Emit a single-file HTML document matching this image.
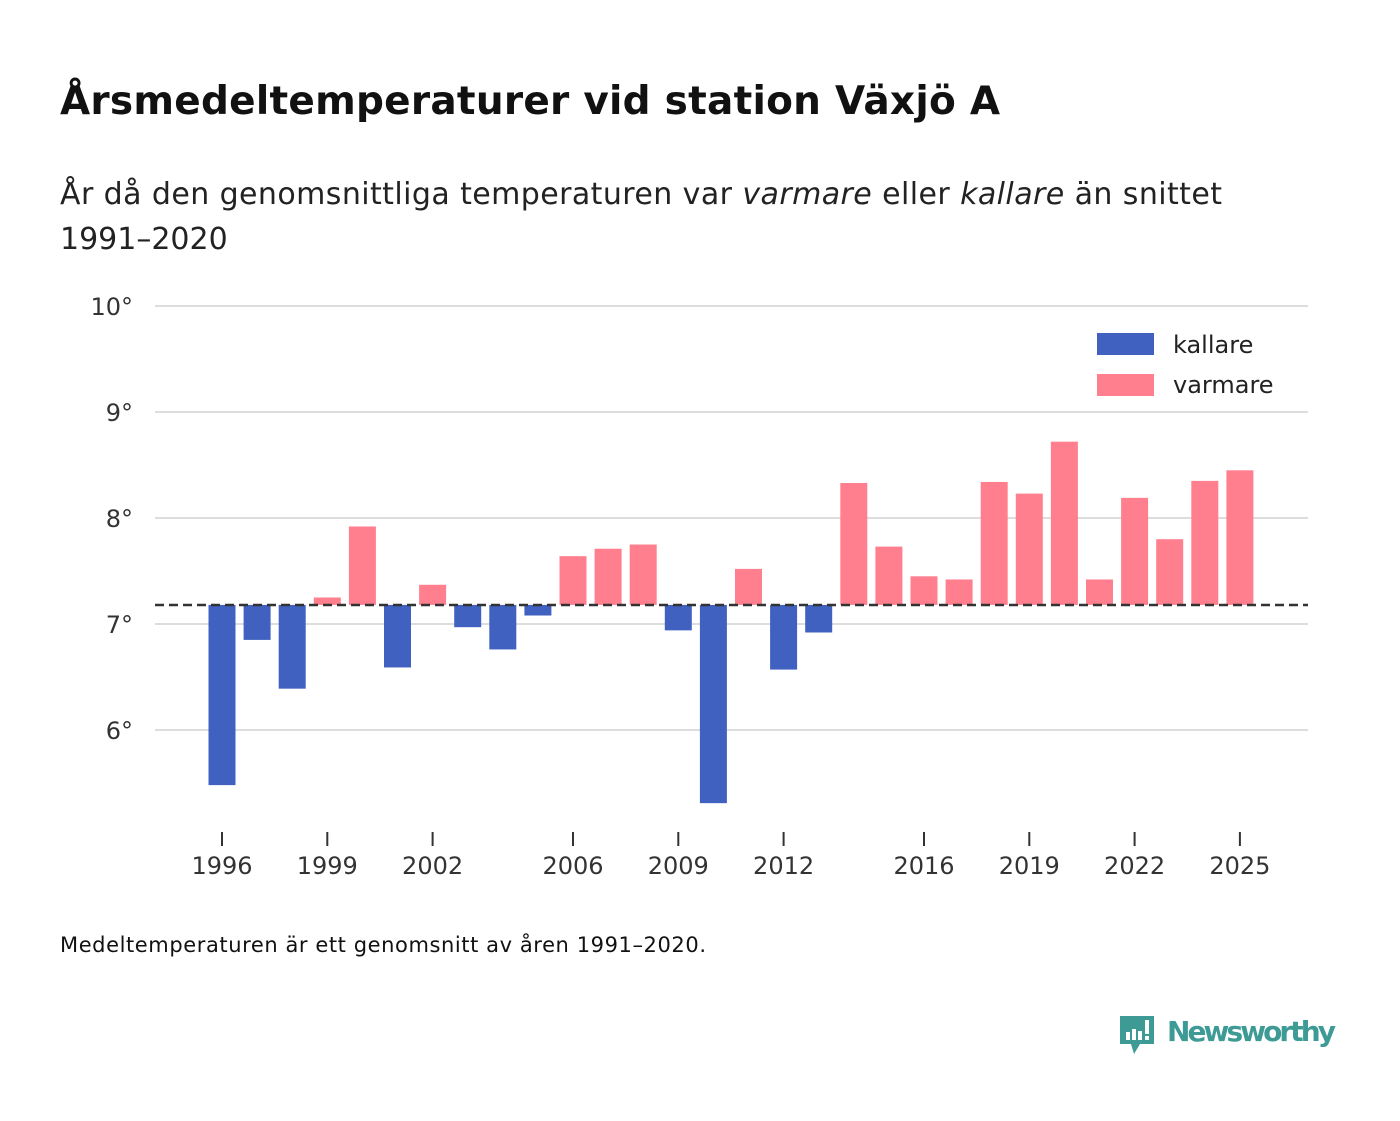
<!DOCTYPE html>
<html><head><meta charset="utf-8"><style>
body{margin:0;width:1400px;height:1116px;background:#fff;font-family:"Liberation Sans","DejaVu Sans",sans-serif;overflow:hidden}
svg text{font-family:"DejaVu Sans","Liberation Sans",sans-serif}
</style></head><body>
<svg width="1400" height="1116">
<text x="60" y="114" font-size="39" font-weight="bold" fill="#111" textLength="940">Årsmedeltemperaturer vid station Växjö A</text>
<text x="60" y="204" font-size="30" fill="#222" textLength="1162">År då den genomsnittliga temperaturen var <tspan font-style="italic">varmare</tspan> eller <tspan font-style="italic">kallare</tspan> än snittet</text>
<text x="60" y="249" font-size="30" fill="#222">1991–2020</text>
<g id="grid"></g><g id="bars"></g><g id="xaxis"></g>
<line x1="155" x2="1308" y1="605" y2="605" stroke="#333" stroke-width="2.5" stroke-dasharray="9,5"/>
<rect x="1097" y="333" width="57" height="22" fill="#4061c0"/>
<text x="1173" y="353" font-size="24" fill="#222">kallare</text>
<rect x="1097" y="374" width="57" height="22" fill="#ff7f8e"/>
<text x="1173" y="393" font-size="24" fill="#222">varmare</text>
<text x="60" y="952" font-size="21" fill="#111" textLength="646">Medeltemperaturen är ett genomsnitt av åren 1991–2020.</text>
<g>
<path d="M1120 1016h34v28h-14l-6 10-3-10h-11z" fill="#3d9a94"/>
<rect x="1126" y="1032" width="4" height="8" fill="#fff"/><rect x="1132" y="1029" width="4" height="11" fill="#fff"/><rect x="1138" y="1031" width="4" height="9" fill="#fff"/><rect x="1145" y="1020" width="4" height="14" fill="#fff"/><rect x="1145" y="1036" width="4" height="4" fill="#fff"/>
<text x="1167" y="1041" font-size="28" font-weight="bold" fill="#3d9a94" textLength="169">Newsworthy</text>
</g>
</svg>
<script>
const years=[1996,1997,1998,1999,2000,2001,2002,2003,2004,2005,2006,2007,2008,2009,2010,2011,2012,2013,2014,2015,2016,2017,2018,2019,2020,2021,2022,2023,2024,2025];
const temps=[5.48,6.85,6.39,7.25,7.92,6.59,7.37,6.97,6.76,7.08,7.64,7.71,7.75,6.94,5.31,7.52,6.57,6.92,8.33,7.73,7.45,7.42,8.34,8.23,8.72,7.42,8.19,7.80,8.35,8.45];
const baseline=7.18;
const yTicks=[6,7,8,9,10];
const xTicks=[1996,1999,2002,2006,2009,2012,2016,2019,2022,2025];
const NS="http://www.w3.org/2000/svg";
const y=v=>624-(v-7)*106;
const x=yr=>222+(yr-1996)*35.1;
function mk(t,a,p){const e=document.createElementNS(NS,t);for(const k in a)e.setAttribute(k,a[k]);p.appendChild(e);return e;}
const g=document.getElementById('grid');
yTicks.forEach(v=>{
 const l=mk('line',{x1:155,x2:1308,y1:y(v),y2:y(v),stroke:'#ddd','stroke-width':2},g);
 
 
 const t=mk('text',{x:133,y:y(v)+9,'font-size':24,fill:'#333','text-anchor':'end'},g);
 t.textContent=v+'°';
 
 
});
const b=document.getElementById('bars');
years.forEach((yr,i)=>{
 const v=temps[i];const top=Math.min(y(v),y(baseline));const h=Math.abs(y(v)-y(baseline));
 const r=mk('rect',{x:x(yr)-13.5,y:top,width:27,height:h,fill:v<baseline?'#4061c0':'#ff7f8e'},b);
 
 
});
const xa=document.getElementById('xaxis');
xTicks.forEach(yr=>{
 const l=mk('line',{x1:x(yr),x2:x(yr),y1:832,y2:846,stroke:'#333','stroke-width':2},xa);
 
 
 const t=mk('text',{x:x(yr),y:874,'font-size':24,fill:'#333','text-anchor':'middle'},xa);
 t.textContent=yr;
 
 
});
</script>
</body></html>
